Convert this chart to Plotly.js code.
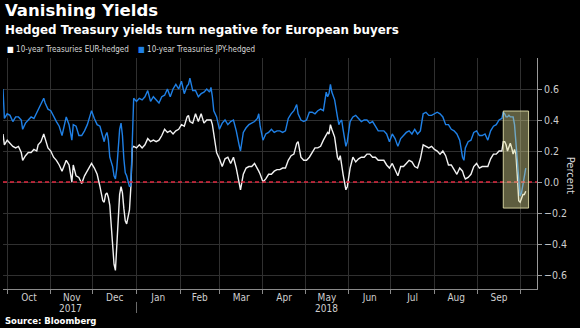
<!DOCTYPE html>
<html>
<head>
<meta charset="utf-8">
<script src="https://cdn.plot.ly/plotly-3.0.1.min.js"></script>
<style>
html,body{margin:0;padding:0;background:#000;}
#chart{width:580px;height:328px;}
</style>
</head>
<body>
<div id="chart"></div>
<script>
// ---- data ----
const dates = [
"2017-09-28","2017-09-29","2017-10-01","2017-10-03","2017-10-05","2017-10-07","2017-10-09","2017-10-11","2017-10-12","2017-10-14",
"2017-10-16","2017-10-18","2017-10-20","2017-10-22","2017-10-23","2017-10-25","2017-10-27","2017-10-28","2017-10-30","2017-11-01",
"2017-11-03","2017-11-05","2017-11-07","2017-11-09","2017-11-11","2017-11-12","2017-11-14","2017-11-16","2017-11-17","2017-11-19",
"2017-11-21","2017-11-23","2017-11-25","2017-11-27","2017-11-29","2017-11-30","2017-12-02","2017-12-04","2017-12-06","2017-12-08",
"2017-12-09","2017-12-10","2017-12-11","2017-12-12","2017-12-13","2017-12-14","2017-12-15","2017-12-16","2017-12-17","2017-12-18",
"2017-12-19","2017-12-20","2017-12-21","2017-12-22","2017-12-23","2017-12-24","2017-12-25","2017-12-26","2017-12-27","2017-12-28",
"2017-12-29","2017-12-30","2018-01-01","2018-01-03","2018-01-05","2018-01-07","2018-01-09","2018-01-11","2018-01-13","2018-01-15",
"2018-01-17","2018-01-19","2018-01-21","2018-01-23","2018-01-25","2018-01-27","2018-01-29","2018-01-31","2018-02-02","2018-02-04",
"2018-02-06","2018-02-07","2018-02-08","2018-02-10","2018-02-12","2018-02-14","2018-02-16","2018-02-18","2018-02-20","2018-02-22",
"2018-02-23","2018-02-24","2018-02-25","2018-02-27","2018-03-01","2018-03-03","2018-03-05","2018-03-07","2018-03-09","2018-03-11",
"2018-03-13","2018-03-15","2018-03-16","2018-03-18","2018-03-20","2018-03-22","2018-03-24","2018-03-26","2018-03-28","2018-03-29",
"2018-03-30","2018-04-01","2018-04-03","2018-04-05","2018-04-07","2018-04-09","2018-04-11","2018-04-13","2018-04-15","2018-04-17",
"2018-04-19","2018-04-21","2018-04-23","2018-04-25","2018-04-26","2018-04-28","2018-04-30","2018-05-02","2018-05-04","2018-05-06",
"2018-05-08","2018-05-10","2018-05-12","2018-05-14","2018-05-16","2018-05-17","2018-05-18","2018-05-19","2018-05-20","2018-05-22",
"2018-05-24","2018-05-25","2018-05-26","2018-05-27","2018-05-28","2018-05-29","2018-05-30","2018-05-31","2018-06-01","2018-06-02",
"2018-06-04","2018-06-06","2018-06-08","2018-06-10","2018-06-12","2018-06-14","2018-06-16","2018-06-18","2018-06-20","2018-06-22",
"2018-06-24","2018-06-26","2018-06-28","2018-06-30","2018-07-02","2018-07-04","2018-07-06","2018-07-08","2018-07-10","2018-07-12",
"2018-07-14","2018-07-16","2018-07-18","2018-07-20","2018-07-22","2018-07-24","2018-07-26","2018-07-28","2018-07-30","2018-08-01",
"2018-08-03","2018-08-05","2018-08-07","2018-08-09","2018-08-11","2018-08-13","2018-08-15","2018-08-17","2018-08-19","2018-08-21",
"2018-08-22","2018-08-23","2018-08-25","2018-08-27","2018-08-29","2018-08-31","2018-09-02","2018-09-04","2018-09-06","2018-09-08",
"2018-09-10","2018-09-12","2018-09-14","2018-09-16","2018-09-18","2018-09-19","2018-09-20","2018-09-21","2018-09-22","2018-09-23",
"2018-09-24","2018-09-25","2018-09-26","2018-09-27","2018-09-28","2018-09-29","2018-09-30","2018-10-01","2018-10-02","2018-10-03",
"2018-10-04","2018-10-05"
];
const jpyHedged = [
0.60,0.41,0.44,0.43,0.39,0.42,0.42,0.40,0.34,0.38,
0.40,0.42,0.41,0.45,0.47,0.51,0.54,0.51,0.47,0.46,
0.42,0.39,0.36,0.30,0.38,0.42,0.37,0.27,0.37,0.36,
0.30,0.30,0.33,0.37,0.43,0.46,0.41,0.37,0.36,0.30,
0.26,0.30,0.32,0.27,0.16,0.13,0.10,0.04,0.02,0.09,
0.23,0.34,0.38,0.30,0.15,0.06,0.04,0.00,-0.03,-0.02,
0.36,0.54,0.52,0.54,0.53,0.55,0.59,0.52,0.55,0.53,
0.51,0.55,0.56,0.60,0.55,0.60,0.63,0.60,0.65,0.57,
0.62,0.63,0.67,0.59,0.59,0.55,0.57,0.58,0.60,0.58,
0.61,0.55,0.46,0.42,0.34,0.38,0.40,0.37,0.39,0.40,
0.33,0.24,0.20,0.32,0.35,0.37,0.38,0.39,0.41,0.44,
0.36,0.27,0.31,0.32,0.34,0.32,0.33,0.33,0.32,0.33,
0.41,0.44,0.46,0.50,0.44,0.40,0.39,0.40,0.45,0.45,
0.44,0.46,0.47,0.46,0.58,0.55,0.57,0.63,0.58,0.53,
0.42,0.37,0.39,0.40,0.34,0.28,0.23,0.26,0.33,0.39,
0.42,0.43,0.41,0.39,0.40,0.40,0.38,0.39,0.36,0.33,
0.33,0.33,0.31,0.26,0.31,0.28,0.23,0.28,0.30,0.32,
0.33,0.31,0.34,0.31,0.33,0.44,0.45,0.43,0.43,0.44,
0.45,0.44,0.42,0.37,0.37,0.34,0.33,0.31,0.27,0.16,
0.14,0.22,0.26,0.27,0.32,0.33,0.30,0.30,0.31,0.27,
0.33,0.36,0.37,0.40,0.41,0.45,0.44,0.42,0.42,0.43,
0.42,0.42,0.42,0.37,0.26,0.14,0.00,-0.09,-0.07,-0.01,
0.02,0.09
];
const eurHedged = [
0.31,0.24,0.27,0.25,0.23,0.22,0.23,0.19,0.14,0.17,
0.19,0.19,0.21,0.20,0.24,0.26,0.31,0.28,0.22,0.20,
0.16,0.14,0.11,0.07,0.11,0.14,0.11,0.00,0.11,0.04,
0.03,-0.01,0.04,0.07,0.10,0.12,0.09,0.05,-0.03,-0.12,
-0.13,-0.08,-0.07,-0.10,-0.15,-0.27,-0.42,-0.53,-0.57,-0.41,
-0.18,-0.08,-0.03,-0.07,-0.17,-0.25,-0.27,-0.23,-0.18,-0.03,
0.22,0.23,0.22,0.24,0.22,0.24,0.28,0.26,0.27,0.26,
0.27,0.30,0.34,0.32,0.33,0.31,0.33,0.34,0.37,0.36,
0.42,0.43,0.39,0.38,0.44,0.39,0.44,0.38,0.40,0.40,
0.40,0.37,0.31,0.19,0.15,0.10,0.15,0.16,0.12,0.16,
0.09,-0.01,-0.05,0.05,0.09,0.10,0.10,0.12,0.09,0.07,
0.05,0.00,0.02,0.05,0.05,0.07,0.08,0.08,0.09,0.09,
0.14,0.17,0.18,0.25,0.26,0.16,0.14,0.14,0.16,0.19,
0.22,0.22,0.23,0.27,0.31,0.32,0.31,0.37,0.34,0.29,
0.16,0.14,0.17,0.10,0.05,0.00,-0.05,-0.03,0.05,0.09,
0.16,0.13,0.15,0.16,0.16,0.18,0.18,0.16,0.16,0.14,
0.14,0.14,0.11,0.09,0.12,0.08,0.04,0.10,0.10,0.12,
0.14,0.13,0.10,0.09,0.15,0.24,0.23,0.22,0.23,0.21,
0.20,0.18,0.20,0.17,0.11,0.11,0.08,0.05,0.09,0.07,
0.04,0.02,0.03,0.05,0.10,0.12,0.09,0.10,0.10,0.10,
0.15,0.18,0.18,0.20,0.20,0.26,0.26,0.24,0.20,0.22,
0.25,0.22,0.18,0.21,0.18,0.04,-0.12,-0.13,-0.10,-0.08,
-0.08,-0.06
];
const seriesNames = ["10-year Treasuries EUR-hedged", "10-year Treasuries JPY-hedged"];
const yearLabels = ["2017", "2018"];
const yTicks = [-0.6,-0.4,-0.2,0.0,0.2,0.4,0.6];
const highlightDates = ["2018-09-19","2018-10-07"];
const highlightRange = [-0.168, 0.458];

// ---- styling ----
const COND = "'DejaVu Sans Condensed', 'Liberation Sans Narrow', 'DejaVu Sans', sans-serif";
const BOLD = "'DejaVu Sans', sans-serif";
const WHITE = "#f2f2f2";
const BLUE = "#1f80e6";

const traces = [
  {x: dates, y: eurHedged, name: seriesNames[0], type: "scatter", mode: "lines",
   line: {color: WHITE, width: 1.4}, showlegend: false, hoverinfo: "skip"},
  {x: dates, y: jpyHedged, name: seriesNames[1], type: "scatter", mode: "lines",
   line: {color: BLUE, width: 1.4}, showlegend: false, hoverinfo: "skip"}
];

const layout = {
  width: 580, height: 328,
  paper_bgcolor: "#000", plot_bgcolor: "#000",
  margin: {l: 3, r: 43, t: 58, b: 39, pad: 0},
  showlegend: false,
  xaxis: {
    type: "date",
    range: ["2017-09-28", "2018-10-13"],
    tick0: "2017-10-01", dtick: "M1",
    ticklabelmode: "period",
    tickformat: "%b",
    tickfont: {family: COND, size: 10, color: "#cfcfcf"},
    ticks: "outside", ticklen: 4, tickcolor: "#8a8a8a", tickwidth: 1,
    ticklabelstandoff: -5,
    showline: true, linecolor: "#8a8a8a", linewidth: 1,
    showgrid: true, gridcolor: "#303030", gridwidth: 1,
    zeroline: false, automargin: false, fixedrange: true
  },
  yaxis: {
    side: "right",
    range: [-0.69, 0.80],
    tickvals: yTicks,
    tickformat: ".1f",
    tickfont: {family: COND, size: 10.5, color: "#cfcfcf"},
    ticks: "outside", ticklen: 4, tickcolor: "#9a9a9a", tickwidth: 1,
    showline: true, linecolor: "#9a9a9a", linewidth: 1,
    showgrid: true, gridcolor: "#303030", gridwidth: 1,
    zeroline: false, automargin: false, fixedrange: true
  },
  shapes: [
    {type: "line", xref: "paper", yref: "y", x0: 0, x1: 1, y0: 0, y1: 0,
     line: {color: "#e0283f", width: 1.5, dash: "4px,3px"}, layer: "above"},
    {type: "rect", xref: "x", yref: "y",
     x0: highlightDates[0], x1: highlightDates[1], y0: highlightRange[0], y1: highlightRange[1],
     fillcolor: "rgba(225,222,150,0.42)", line: {color: "rgba(235,232,175,0.85)", width: 1}, layer: "above"},
    {type: "line", xref: "x", yref: "paper", x0: "2018-01-01", x1: "2018-01-01", y0: -0.056, y1: -0.104,
     line: {color: "#6a6a6a", width: 1}}
  ],
  annotations: [
    {text: "Vanishing Yields", xref: "paper", yref: "paper", x: 0, y: 1.205, xanchor: "left", yanchor: "middle",
     showarrow: false, font: {family: BOLD, size: 16.5, color: "#ffffff", weight: "bold"}},
    {text: "Hedged Treasury yields turn negative for European buyers", xref: "paper", yref: "paper", x: 0, y: 1.121,
     xanchor: "left", yanchor: "middle", showarrow: false, font: {family: BOLD, size: 11.9, color: "#ffffff", weight: "bold"}},
    {text: "<span style='color:#ffffff'>■</span> " + seriesNames[0], xref: "paper", yref: "paper", x: 0.004, y: 1.035,
     xanchor: "left", yanchor: "middle", showarrow: false, font: {family: COND, size: 8.0, color: "#d8d8d8"}},
    {text: "<span style='color:" + BLUE + "'>■</span> " + seriesNames[1], xref: "paper", yref: "paper", x: 0.249, y: 1.035,
     xanchor: "left", yanchor: "middle", showarrow: false, font: {family: COND, size: 8.0, color: "#d8d8d8"}},
    {text: "Percent", xref: "paper", yref: "paper", x: 1.062, y: 0.494, xanchor: "center", yanchor: "middle",
     textangle: 90, showarrow: false, font: {family: COND, size: 11, color: "#d8d8d8"}},
    {text: yearLabels[0], xref: "x", yref: "paper", x: "2017-11-15", y: -0.084, xanchor: "center", yanchor: "middle",
     showarrow: false, font: {family: COND, size: 10, color: "#cfcfcf"}},
    {text: yearLabels[1], xref: "x", yref: "paper", x: "2018-05-16", y: -0.084, xanchor: "center", yanchor: "middle",
     showarrow: false, font: {family: COND, size: 10, color: "#cfcfcf"}},
    {text: "Source: Bloomberg", xref: "paper", yref: "paper", x: 0, y: -0.139, xanchor: "left", yanchor: "middle",
     showarrow: false, font: {family: BOLD, size: 8.5, color: "#ffffff", weight: "bold"}}
  ]
};

Plotly.newPlot("chart", traces, layout, {displayModeBar: false, staticPlot: true});
</script>
</body>
</html>
